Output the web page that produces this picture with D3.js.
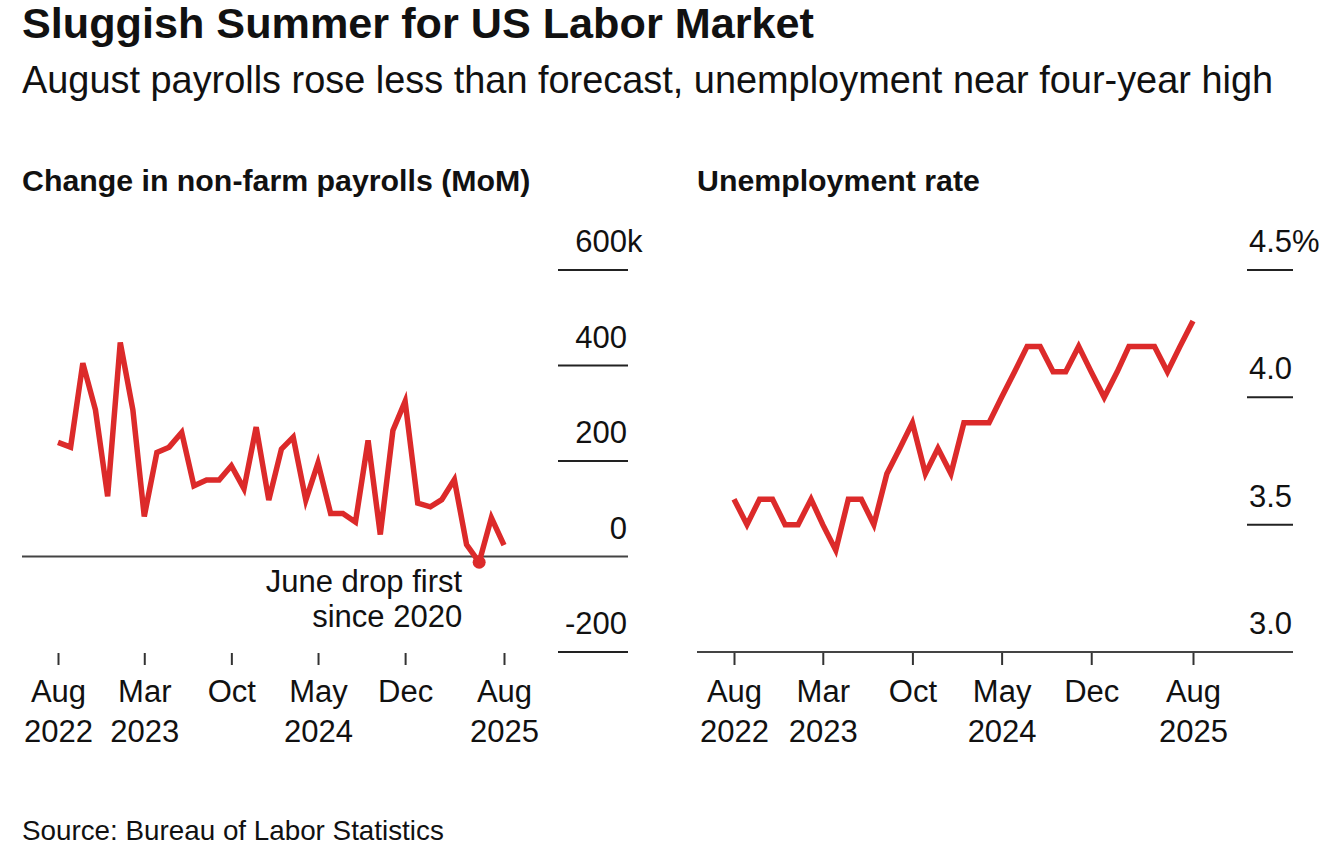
<!DOCTYPE html>
<html>
<head>
<meta charset="utf-8">
<script src="https://cdn.jsdelivr.net/npm/d3@7"></script>
<style>
  body { margin: 0; background: #fff; }
  text { font-family: "Liberation Sans", Arial, Helvetica, sans-serif; fill: #111; }
</style>
</head>
<body>
<svg id="chart" width="1336" height="864"></svg>
<script>
// months Aug 2022 .. Aug 2025
const months = [
  "2022-08","2022-09","2022-10","2022-11","2022-12",
  "2023-01","2023-02","2023-03","2023-04","2023-05","2023-06","2023-07","2023-08","2023-09","2023-10","2023-11","2023-12",
  "2024-01","2024-02","2024-03","2024-04","2024-05","2024-06","2024-07","2024-08","2024-09","2024-10","2024-11","2024-12",
  "2025-01","2025-02","2025-03","2025-04","2025-05","2025-06","2025-07","2025-08"
];

// change in non-farm payrolls, thousands
const payrolls = [
  239, 229, 405, 307, 126, 448, 307, 84, 218, 229, 260, 148,
  160, 160, 190, 142, 271, 118, 225, 250, 118, 196, 90, 90,
  72, 243, 46, 264, 325, 112, 104, 119, 161, 25, -12, 81,
  24
];

// unemployment rate, %
const unemployment = [
  3.6, 3.5, 3.6, 3.6, 3.5, 3.5, 3.6, 3.5, 3.4, 3.6, 3.6, 3.5,
  3.7, 3.8, 3.9, 3.7, 3.8, 3.7, 3.9, 3.9, 3.9, 4.0, 4.1, 4.2,
  4.2, 4.1, 4.1, 4.2, 4.1, 4.0, 4.1, 4.2, 4.2, 4.2, 4.1, 4.2,
  4.3
];

const tickMonths = ["2022-08","2023-03","2023-10","2024-05","2024-12","2025-08"];
const tickTop    = ["Aug","Mar","Oct","May","Dec","Aug"];
const tickBottom = ["2022","2023","","2024","","2025"];

const payTicks   = [-200, 0, 200, 400, 600];
const unempTicks = [3.0, 3.5, 4.0, 4.5];

const red = "#dc2a2a";
const parse = d3.timeParse("%Y-%m");
const dates = months.map(parse);
const tickDates = tickMonths.map(parse);

const svg = d3.select("#chart");

// titles
svg.append("text").attr("x", 22).attr("y", 38)
  .style("font-size", "43.2px").style("font-weight", "bold")
  .text("Sluggish Summer for US Labor Market");
svg.append("text").attr("x", 22).attr("y", 93)
  .style("font-size", "37.9px")
  .text("August payrolls rose less than forecast, unemployment near four-year high");
svg.append("text").attr("x", 22).attr("y", 840)
  .style("font-size", "27.8px")
  .text("Source: Bureau of Labor Statistics");

function panel(cfg) {
  const x = d3.scaleTime().domain(d3.extent(dates)).range(cfg.xRange);
  const y = d3.scaleLinear().domain(d3.extent(cfg.ticks)).range([652, 270]);
  const g = svg.append("g");

  g.append("text").attr("x", cfg.titleX).attr("y", 191)
    .style("font-size", "30.3px").style("font-weight", "bold")
    .text(cfg.title);

  // gridlines: short stubs under the labels, baseline runs full width
  g.selectAll(".grid").data(cfg.ticks).join("line")
    .attr("x1", d => d === cfg.base ? cfg.baseX1 : cfg.gridX1)
    .attr("x2", cfg.gridX2)
    .attr("y1", d => y(d)).attr("y2", d => y(d))
    .attr("stroke", d => d === cfg.base ? "#444" : "#222")
    .attr("stroke-width", 2);

  g.selectAll(".lab").data(cfg.ticks).join("text")
    .attr("x", cfg.gridX2 - 1).attr("y", d => y(d) - 18)
    .attr("text-anchor", "end")
    .style("font-size", "31px")
    .text(cfg.fmt);
  g.append("text")
    .attr("x", cfg.gridX2 - 1).attr("y", y(cfg.ticks[cfg.ticks.length - 1]) - 18)
    .style("font-size", "31px")
    .text(cfg.unit);

  // x axis
  const axis = d3.axisBottom(x).tickValues(tickDates).tickSize(12).tickFormat("");
  const ax = g.append("g").attr("transform", "translate(0,653)").call(axis);
  ax.select(".domain").remove();
  ax.selectAll(".tick line").attr("stroke", "#333").attr("stroke-width", 2);
  ax.selectAll(".tick text").each(function(d, i) {
    const t = d3.select(this).attr("y", 0).attr("dy", null)
      .style("font-size", "31px").attr("fill", "#111");
    t.append("tspan").attr("x", 0).attr("y", 49).text(tickTop[i]);
    t.append("tspan").attr("x", 0).attr("y", 89).text(tickBottom[i]);
  });

  const line = d3.line().x((d, i) => x(dates[i])).y(d => y(d));
  g.append("path").datum(cfg.values)
    .attr("d", line)
    .attr("fill", "none")
    .attr("stroke", red)
    .attr("stroke-width", 5.5);

  return { x, y, g };
}

const left = panel({
  title: "Change in non-farm payrolls (MoM)", titleX: 22,
  xRange: [58, 504], ticks: payTicks, base: 0,
  baseX1: 22, gridX1: 558, gridX2: 628,
  fmt: d => d, unit: "k", values: payrolls
});

panel({
  title: "Unemployment rate", titleX: 697,
  xRange: [734, 1193], ticks: unempTicks, base: 3.0,
  baseX1: 697, gridX1: 1247, gridX2: 1293,
  fmt: d => d.toFixed(1), unit: "%", values: unemployment
});

// June 2025 annotation
const iJune = months.indexOf("2025-06");
left.g.append("circle")
  .attr("cx", left.x(dates[iJune])).attr("cy", left.y(payrolls[iJune]))
  .attr("r", 6.5).attr("fill", red);
left.g.selectAll(".note").data(["June drop first", "since 2020"]).join("text")
  .attr("x", left.x(dates[iJune]) - 17)
  .attr("y", (d, i) => left.y(0) + 35 + i * 35)
  .attr("text-anchor", "end")
  .style("font-size", "31px")
  .text(d => d);
</script>
</body>
</html>
